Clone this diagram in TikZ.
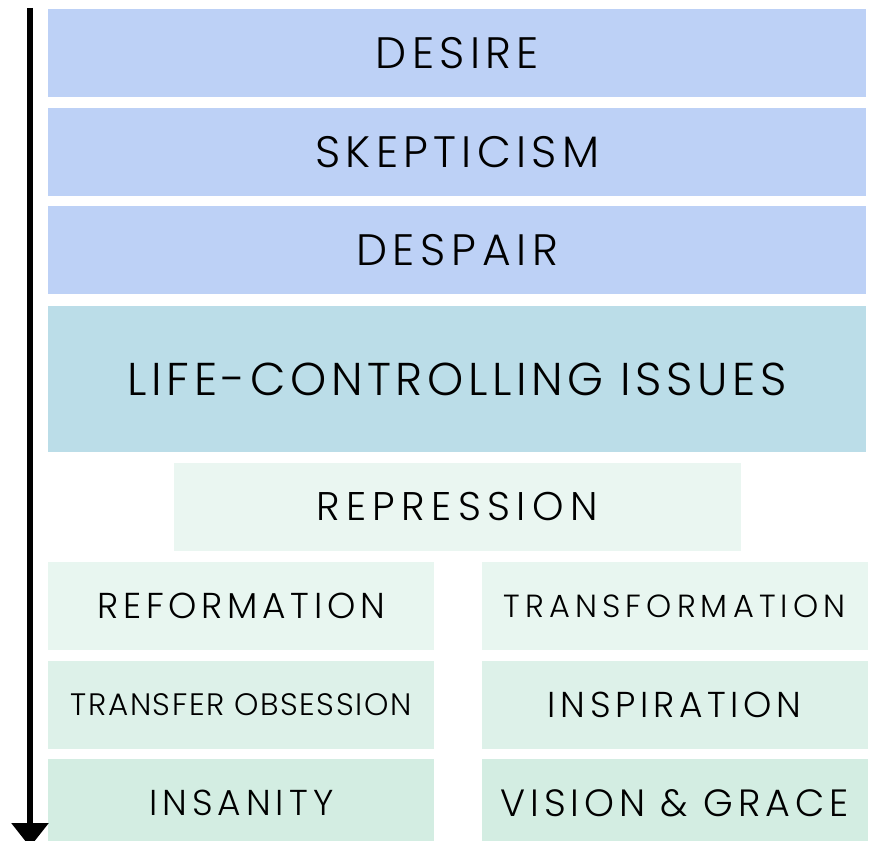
\documentclass[tikz,border=0pt]{standalone}
\usepackage{fontspec}
\setmainfont{Poppins Light}[LetterSpace=12]
\usetikzlibrary{positioning,arrows.meta}
\definecolor{stageblue}{RGB}{189,209,246}
\definecolor{issueteal}{RGB}{187,221,232}
\definecolor{mintpale}{RGB}{234,246,241}
\definecolor{mintone}{RGB}{232,246,240}
\definecolor{minttwo}{RGB}{221,241,233}
\definecolor{mintthree}{RGB}{211,237,226}
\newcommand{\spaced}[2]{\fontsize{#1}{#1}\selectfont\addfontfeature{LetterSpace=#2}}

\begin{document}
\begin{tikzpicture}[
    x=1pt, y=-1pt,
    stage/.style={rectangle, fill=stageblue, inner sep=0pt, minimum width=818pt, minimum height=88pt, anchor=north west, align=center, font=\fontsize{44}{50}\selectfont},
    issue/.style={stage, fill=issueteal, minimum height=146pt, font=\spaced{46}{10}},
    repress/.style={stage, fill=mintpale, minimum width=567pt, font=\spaced{40}{16}},
    outcome/.style={stage, minimum width=386pt, minimum height=88pt, font=\spaced{36}{13}},
    timeline/.style={-{Triangle[width=36pt,length=24pt]}, line width=6pt}
]
\useasboundingbox (0,0) rectangle (874,840);

% Stages
\node[stage] (desire) at (48,9) {DESIRE};
\node[stage, below=10pt of desire] (skeptic) {SKEPTICISM};
\node[stage, below=10pt of skeptic, font=\spaced{44}{13}] (despair) {DESPAIR};
\node[issue, below=12pt of despair] (issues) {LIFE-CONTROLLING ISSUES};
\node[repress, below=10pt of issues] (repress) {REPRESSION};

% Outcomes
\node[outcome, fill=mintone] (reform) at (48,562) {REFORMATION};
\node[outcome, fill=mintone, right=47pt of reform, font=\spaced{32}{16}] (transform) {TRANSFORMATION};
\node[outcome, fill=minttwo, below=10pt of reform, font=\spaced{31}{5}] (transfer) {TRANSFER OBSESSION};
\node[outcome, fill=minttwo, below=10pt of transform] (inspire) {INSPIRATION};
\node[outcome, fill=mintthree, below=10pt of transfer, font=\spaced{36}{14}] (insanity) {INSANITY};
\node[outcome, fill=mintthree, below=10pt of inspire, font=\spaced{38}{13}] (vision) {VISION \& GRACE};

% Arrow
\coordinate (arrowtop) at (30,8);
\coordinate (arrowend) at (30,847);
\draw[timeline] (arrowtop) -- (arrowend);

\end{tikzpicture}
\end{document}
